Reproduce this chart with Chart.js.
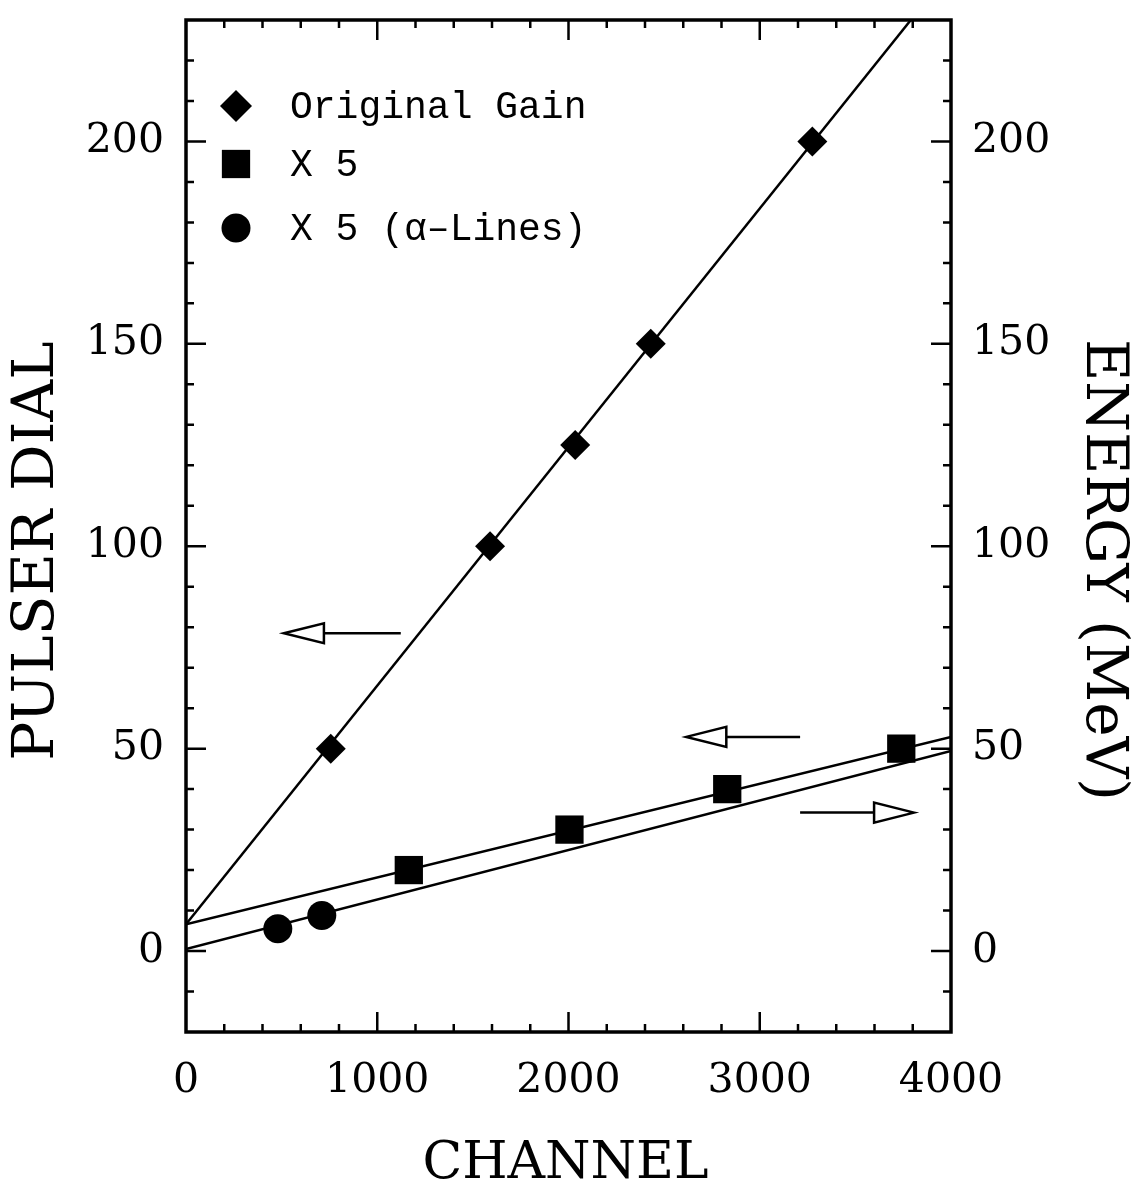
<!DOCTYPE html>
<html>
<head>
<meta charset="utf-8">
<script src="https://cdn.jsdelivr.net/npm/chart.js@4.4.1/dist/chart.umd.min.js"></script>
<style>
  html, body { margin: 0; padding: 0; background: #fff; }
</style>
</head>
<body>
<canvas id="myChart" width="1140" height="1199"></canvas>
<script>
// pulser dial calibration points
const originalChannel = [757, 1590, 2035, 2430, 3275];
const originalDial = [50, 100, 125, 150, 200];
const x5Channel = [1165, 2005, 2830, 3740];
const x5Dial = [20, 30, 40, 50];
const alphaChannel = [480, 710];
const alphaEnergy = [5.49, 8.78];

// fitted lines, end points
const fitOriginalChannel = [0, 3790];
const fitOriginalDial = [6.6, 230];
const fitX5Channel = [0, 4000];
const fitX5Dial = [6.6, 52.9];
const fitAlphaChannel = [0, 4000];
const fitAlphaEnergy = [0.5, 49.4];

// arrows telling which axis a line belongs to (tail, tip, level)
const arrowTail = [1123, 3211, 3211];
const arrowTip = [512, 2616, 3807];
const arrowLevel = [78.5, 52.9, 34.2];

const legendLabels = ['Original Gain', 'X 5', 'X 5 (\u03b1\u2013Lines)'];

const xTicks = [0, 1000, 2000, 3000, 4000];
const yTicks = [0, 50, 100, 150, 200];

const toPoints = (xs, ys) => xs.map((x, i) => ({x: x, y: ys[i]}));

const serif = 'DejaVu Serif';
Chart.defaults.font.family = serif;
Chart.defaults.color = '#000';

const markerStyles = [
  {pointStyle: 'rectRot', radius: 15},
  {pointStyle: 'rect', radius: 20},
  {pointStyle: 'circle', radius: 14.5}
];

function markerSet(xs, ys, st) {
  return {
    type: 'scatter',
    data: toPoints(xs, ys),
    pointStyle: st.pointStyle,
    pointRadius: st.radius,
    pointHoverRadius: st.radius,
    pointBackgroundColor: '#000',
    pointBorderColor: '#000',
    pointBorderWidth: 0,
    showLine: false
  };
}

function lineSet(xs, ys) {
  return {
    type: 'line',
    data: toPoints(xs, ys),
    borderColor: '#000',
    borderWidth: 2.5,
    pointRadius: 0,
    fill: false
  };
}

// frame with inward major/minor ticks on all four sides
const framePlugin = {
  id: 'frame',
  afterDatasetsDraw(chart) {
    const {ctx, chartArea: a, scales} = chart;
    const xs = scales.x, ys = scales.y;
    ctx.save();
    ctx.strokeStyle = '#000';
    ctx.lineWidth = 2.5;
    ctx.beginPath();
    for (let v = 200; v < 4000; v += 200) {
      const px = xs.getPixelForValue(v);
      const len = v % 1000 === 0 ? 20 : 8;
      ctx.moveTo(px, a.bottom); ctx.lineTo(px, a.bottom - len);
      ctx.moveTo(px, a.top); ctx.lineTo(px, a.top + len);
    }
    for (let v = -10; v < 230; v += 10) {
      const py = ys.getPixelForValue(v);
      const len = v % 50 === 0 ? 20 : 8;
      ctx.moveTo(a.left, py); ctx.lineTo(a.left + len, py);
      ctx.moveTo(a.right, py); ctx.lineTo(a.right - len, py);
    }
    ctx.stroke();
    ctx.lineWidth = 3.5;
    ctx.strokeRect(a.left, a.top, a.right - a.left, a.bottom - a.top);
    ctx.restore();
  }
};

// open-headed arrows
const arrowPlugin = {
  id: 'arrows',
  afterDatasetsDraw(chart) {
    const {ctx, scales} = chart;
    ctx.save();
    ctx.strokeStyle = '#000';
    ctx.fillStyle = '#fff';
    ctx.lineWidth = 2.5;
    arrowTip.forEach((tip, i) => {
      const x0 = scales.x.getPixelForValue(arrowTail[i]);
      const x1 = scales.x.getPixelForValue(tip);
      const y = scales.y.getPixelForValue(arrowLevel[i]);
      const dir = x1 > x0 ? 1 : -1;
      const base = x1 - dir * 40;
      ctx.beginPath();
      ctx.moveTo(x0, y); ctx.lineTo(base, y);
      ctx.stroke();
      ctx.beginPath();
      ctx.moveTo(x1, y);
      ctx.lineTo(base, y - 10);
      ctx.lineTo(base, y + 10);
      ctx.closePath();
      ctx.fill();
      ctx.stroke();
    });
    ctx.restore();
  }
};

// legend inside the plot, top left
const legendPlugin = {
  id: 'insideLegend',
  afterDatasetsDraw(chart) {
    const {ctx, chartArea: a} = chart;
    const rows = [a.top + 86, a.top + 144, a.top + 208];
    ctx.save();
    ctx.fillStyle = '#000';
    ctx.strokeStyle = '#000';
    ctx.font = '38px "Liberation Mono"';
    ctx.textBaseline = 'middle';
    ctx.textAlign = 'left';
    legendLabels.forEach((lab, i) => {
      const st = markerStyles[i];
      Chart.helpers.drawPoint(ctx, {pointStyle: st.pointStyle, radius: st.pointStyle === 'rectRot' ? 16 : st.radius, rotation: 0, borderWidth: 0}, a.left + 50, rows[i]);
      ctx.fillText(lab, a.left + 104, rows[i] + 2);
    });
    ctx.restore();
  }
};

// axis titles
const titlePlugin = {
  id: 'axisTitles',
  afterDraw(chart) {
    const {ctx, chartArea: a} = chart;
    ctx.save();
    ctx.fillStyle = '#000';
    ctx.textAlign = 'center';
    ctx.textBaseline = 'middle';
    ctx.font = '52px "' + serif + '"';
    ctx.fillText('CHANNEL', (a.left + a.right) / 2 - 3, a.bottom + 132);

    ctx.font = '58px "' + serif + '"';
    ctx.save();
    ctx.translate(a.left - 148, (a.top + a.bottom) / 2 + 25);
    ctx.rotate(-Math.PI / 2);
    ctx.fillText('PULSER DIAL', 0, 0);
    ctx.restore();

    ctx.save();
    ctx.translate(a.right + 151, (a.top + a.bottom) / 2 + 44);
    ctx.rotate(Math.PI / 2);
    ctx.fillText('ENERGY (MeV)', 0, 0);
    ctx.restore();
    ctx.restore();
  }
};

const tickFont = {family: serif, size: 41};

// fixed box sizes so the plot frame sits where it should
const fixBox = (w, h) => s => {
  if (w) s.width = w;
  if (h) s.height = h;
  s.paddingTop = 0; s.paddingBottom = 0;
  s.paddingLeft = 0; s.paddingRight = 0;
};

const config = {
  data: {
    datasets: [
      markerSet(originalChannel, originalDial, markerStyles[0]),
      markerSet(x5Channel, x5Dial, markerStyles[1]),
      markerSet(alphaChannel, alphaEnergy, markerStyles[2]),
      lineSet(fitOriginalChannel, fitOriginalDial),
      lineSet(fitX5Channel, fitX5Dial),
      lineSet(fitAlphaChannel, fitAlphaEnergy)
    ]
  },
  options: {
    responsive: false,
    animation: false,
    events: [],
    layout: {padding: {top: 11, left: 0, right: 0, bottom: 0}},
    plugins: {legend: {display: false}, tooltip: {enabled: false}},
    scales: {
      x: {
        type: 'linear',
        min: 0, max: 4000,
        grid: {display: false, drawTicks: false},
        border: {display: false},
        afterBuildTicks: s => { s.ticks = xTicks.map(v => ({value: v})); },
        ticks: {font: tickFont, padding: 25, maxRotation: 0, callback: v => String(v)},
        afterFit: fixBox(0, 167)
      },
      y: {
        type: 'linear', position: 'left',
        min: -20, max: 230,
        grid: {display: false, drawTicks: false},
        border: {display: false},
        afterBuildTicks: s => { s.ticks = yTicks.map(v => ({value: v})); },
        ticks: {font: tickFont, padding: 22},
        afterFit: fixBox(186, 0)
      },
      energy: {
        type: 'linear', position: 'right',
        min: -20, max: 230,
        grid: {display: false, drawTicks: false},
        border: {display: false},
        afterBuildTicks: s => { s.ticks = yTicks.map(v => ({value: v})); },
        ticks: {font: tickFont, padding: 21},
        afterFit: fixBox(189, 0)
      }
    }
  },
  plugins: [framePlugin, arrowPlugin, legendPlugin, titlePlugin]
};

const myChart = new Chart(document.getElementById('myChart'), config);
</script>
</body>
</html>
